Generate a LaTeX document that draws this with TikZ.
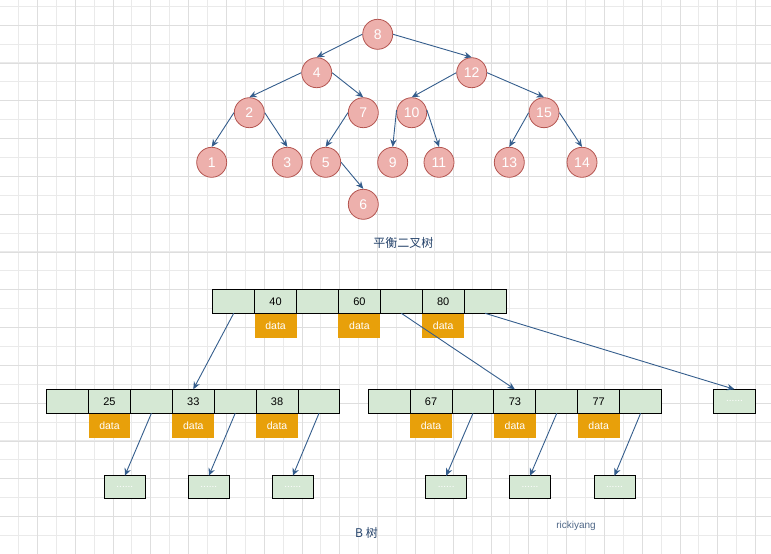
\documentclass[tikz,border=0pt]{standalone}
\usepackage{fontspec}
\setmainfont{Liberation Sans}
\newfontfamily\cjk{Noto Sans CJK SC}
\usetikzlibrary{arrows.meta,positioning}
\definecolor{nodepink}{RGB}{237,176,172}
\definecolor{nodered}{RGB}{180,85,80}
\definecolor{cellgreen}{RGB}{213,232,212}
\definecolor{dataorange}{RGB}{232,160,10}
\definecolor{linkblue}{RGB}{52,93,140}
\definecolor{labelblue}{RGB}{35,65,105}
\definecolor{gridminor}{RGB}{234,234,234}
\definecolor{gridmajor}{RGB}{222,222,222}
\tikzset{
 treenode/.style={
 circle,
 draw=nodered,
 fill=nodepink,
 line width=0.8pt,
 minimum size=30pt,
 inner sep=0pt,
 text=white,
 font=\fontsize{14}{16}\selectfont
 },
 cell/.style={
 rectangle,
 draw=black,
 fill=cellgreen,
 line width=1pt,
 minimum width=41.9pt,
 minimum height=24pt,
 inner sep=0pt,
 outer sep=0pt,
 font=\fontsize{11}{13}\selectfont
 },
 leafcell/.style={
 cell,
 minimum width=41pt,
 minimum height=23pt,
 text=white,
 font=\fontsize{10}{12}\selectfont
 },
 databox/.style={
 rectangle,
 fill=dataorange,
 minimum width=41.9pt,
 minimum height=24.5pt,
 inner sep=0pt,
 outer sep=0pt,
 text=white,
 font=\fontsize{10.5}{12}\selectfont
 },
 caption/.style={text=labelblue, font=\cjk\fontsize{12}{14}\selectfont},
 link/.style={-{Stealth[length=7.5pt,width=6.5pt]}, line width=0.9pt, draw=linkblue}
}

\begin{document}
\begin{tikzpicture}[x=1pt, y=-1pt]
	\useasboundingbox (0,0) rectangle (771,554);
	\foreach \k in {0,...,39} \draw[gridminor, line width=0.6pt] (18.3+18.9*\k,0) -- (18.3+18.9*\k,554);
	\foreach \k in {0,...,28} \draw[gridminor, line width=0.6pt] (0,6+18.9*\k) -- (771,6+18.9*\k);
	\foreach \k in {0,...,19} \draw[gridmajor, line width=0.6pt] (37.3+37.8*\k,0) -- (37.3+37.8*\k,554);
	\foreach \k in {0,...,13} \draw[gridmajor, line width=0.6pt] (0,25+37.8*\k) -- (771,25+37.8*\k);

	\node[treenode] (n8) at (377.7,34.3) {8};
	\node[treenode] (n4) at (316.7,72.7) {4};
	\node[treenode] (n12) at (471.7,72.7) {12};
	\node[treenode] (n2) at (249.3,112.7) {2};
	\node[treenode] (n7) at (363.3,112.7) {7};
	\node[treenode] (n10) at (411.7,112.7) {10};
	\node[treenode] (n15) at (544,112.7) {15};
	\node[treenode] (n1) at (211.7,162.3) {1};
	\node[treenode] (n3) at (287.3,162.3) {3};
	\node[treenode] (n5) at (325.7,162.3) {5};
	\node[treenode] (n9) at (392.7,162.3) {9};
	\node[treenode] (n11) at (439,162.3) {11};
	\node[treenode] (n13) at (509.3,162.3) {13};
	\node[treenode] (n14) at (582,162.3) {14};
	\node[treenode] (n6) at (363.3,204.3) {6};

	\draw[link] (n8.west) -- (n4.north);
	\draw[link] (n8.east) -- (n12.north);
	\draw[link] (n4.west) -- (n2.north);
	\draw[link] (n4.east) -- (n7.north);
	\draw[link] (n12.west) -- (n10.north);
	\draw[link] (n12.east) -- (n15.north);
	\draw[link] (n2.west) -- (n1.north);
	\draw[link] (n2.east) -- (n3.north);
	\draw[link] (n7.west) -- (n5.north);
	\draw[link] (n10.170) -- (n9.north);
	\draw[link] (n10.10) -- (n11.north);
	\draw[link] (n15.west) -- (n13.north);
	\draw[link] (n15.east) -- (n14.north);
	\draw[link] (n5.east) -- (n6.north);

	\node[caption] (avltitle) at (403.3,242.7) {平衡二叉树};

	\node[cell] (top1) at (233.7,301.3) {};
	\node[cell, right=0pt of top1] (top2) {40};
	\node[cell, right=0pt of top2] (top3) {};
	\node[cell, right=0pt of top3] (top4) {60};
	\node[cell, right=0pt of top4] (top5) {};
	\node[cell, right=0pt of top5] (top6) {80};
	\node[cell, right=0pt of top6] (top7) {};
	\node[databox, below=0.5pt of top2] (data40) {data};
	\node[databox, below=0.5pt of top4] (data60) {data};
	\node[databox, below=0.5pt of top6] (data80) {data};

	\node[cell] (lft1) at (67.6,401.3) {};
	\node[cell, right=0pt of lft1] (lft2) {25};
	\node[cell, right=0pt of lft2] (lft3) {};
	\node[cell, right=0pt of lft3] (lft4) {33};
	\node[cell, right=0pt of lft4] (lft5) {};
	\node[cell, right=0pt of lft5] (lft6) {38};
	\node[cell, right=0pt of lft6] (lft7) {};
	\node[databox, below=0.5pt of lft2] (data25) {data};
	\node[databox, below=0.5pt of lft4] (data33) {data};
	\node[databox, below=0.5pt of lft6] (data38) {data};

	\node[cell] (rgt1) at (389.2,401.3) {};
	\node[cell, right=0pt of rgt1] (rgt2) {67};
	\node[cell, right=0pt of rgt2] (rgt3) {};
	\node[cell, right=0pt of rgt3] (rgt4) {73};
	\node[cell, right=0pt of rgt4] (rgt5) {};
	\node[cell, right=0pt of rgt5] (rgt6) {77};
	\node[cell, right=0pt of rgt6] (rgt7) {};
	\node[databox, below=0.5pt of rgt2] (data67) {data};
	\node[databox, below=0.5pt of rgt4] (data73) {data};
	\node[databox, below=0.5pt of rgt6] (data77) {data};

	\node[leafcell, minimum width=42.4pt, minimum height=24pt] (far) at (734.5,401.3) {......};

	\node[leafcell] (leafA) at (124.8,487.3) {......};
	\node[leafcell] (leafB) at (208.8,487.3) {......};
	\node[leafcell] (leafC) at (292.8,487.3) {......};
	\node[leafcell] (leafD) at (446.2,487.3) {......};
	\node[leafcell] (leafE) at (530,487.3) {......};
	\node[leafcell] (leafF) at (614.5,487.3) {......};

	\draw[link] (top1.south) -- (lft4.north);
	\draw[link] (top5.south) -- (rgt4.north);
	\draw[link] (top7.south) -- (far.north);

	\draw[link] (lft3.south) -- (leafA.north);
	\draw[link] (lft5.south) -- (leafB.north);
	\draw[link] (lft7.south) -- (leafC.north);
	\draw[link] (rgt3.south) -- (leafD.north);
	\draw[link] (rgt5.south) -- (leafE.north);
	\draw[link] (rgt7.south) -- (leafF.north);

	\node[caption] (btitle) at (366.5,533) {B 树};
	\node[text=labelblue!80, font=\fontsize{10}{12}\selectfont] (author) at (576,526) {rickiyang};
\end{tikzpicture}
\end{document}
